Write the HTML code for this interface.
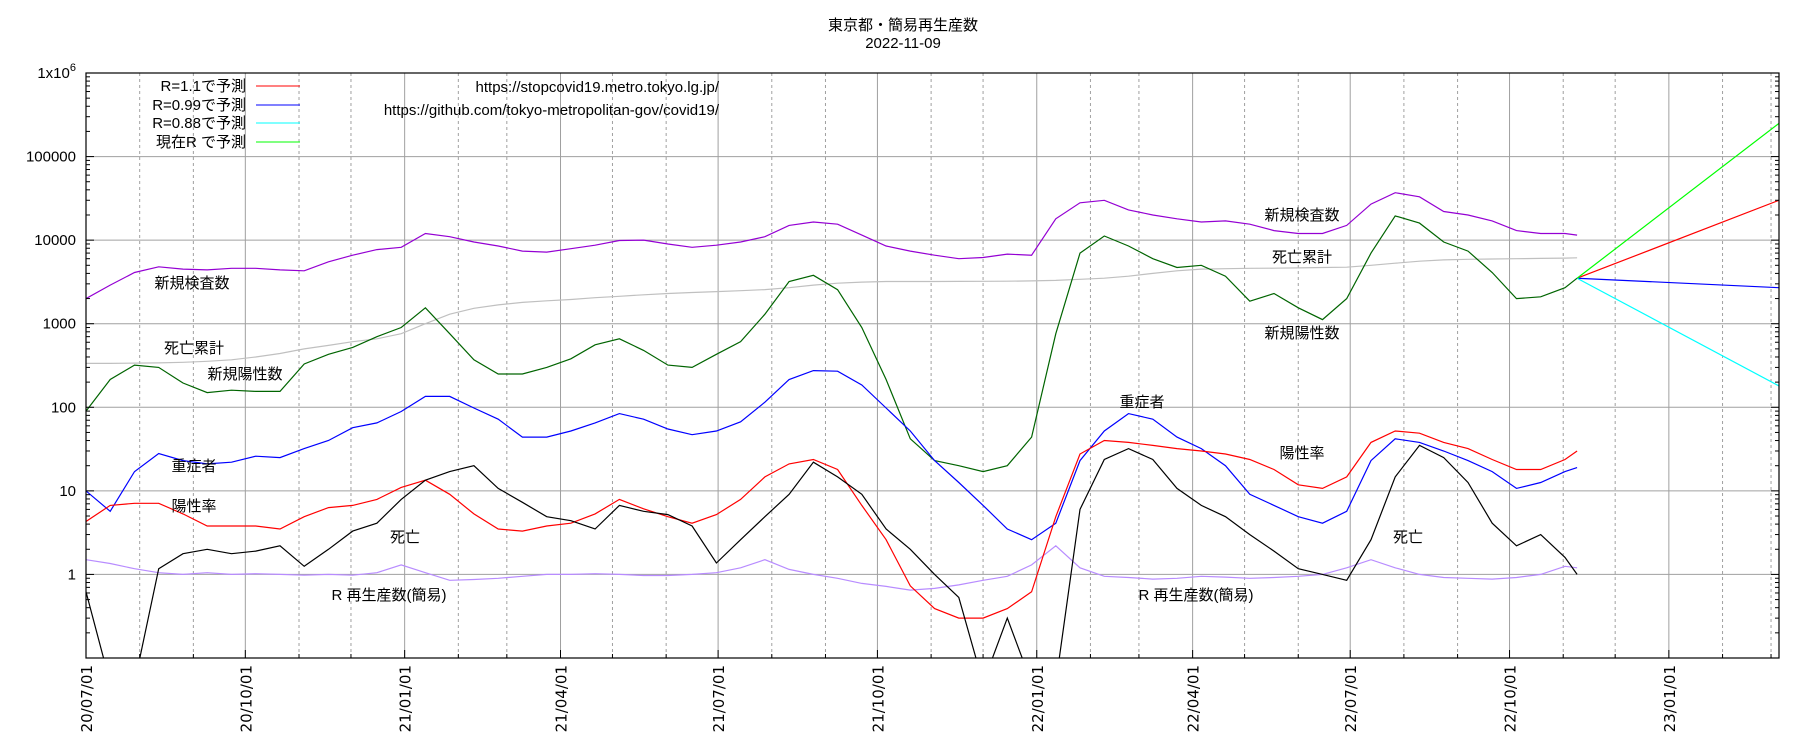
<!DOCTYPE html>
<html><head><meta charset="utf-8">
<style>
html,body{margin:0;padding:0;background:#fff;}
svg{display:block;font-family:"Liberation Sans","Noto Sans CJK JP",sans-serif;}
</style></head>
<body>
<svg id="chart" width="1806" height="747" viewBox="0 0 1806 747" xmlns="http://www.w3.org/2000/svg">
<text x="903" y="30" font-size="15" text-anchor="middle">東京都・簡易再生産数</text>
<text x="903" y="48" font-size="15" text-anchor="middle">2022-11-09</text>
<g id="grid"></g>
<g id="series" clip-path="url(#plotclip)"></g>
<defs><clipPath id="plotclip"><rect x="86" y="73" width="1693" height="585"/></clipPath></defs>
<rect x="86" y="73" width="1693" height="585" fill="none" stroke="#000" stroke-width="1.2"/>
<g id="axes" font-size="15"></g>
<g font-size="15" text-anchor="end">
<g><text x="246" y="91">R=1.1で予測</text><line x1="256" y1="86" x2="300" y2="86" stroke="#ff0000"/></g>
<g><text x="246" y="110">R=0.99で予測</text><line x1="256" y1="105" x2="300" y2="105" stroke="#0000ff"/></g>
<g><text x="246" y="128">R=0.88で予測</text><line x1="256" y1="123" x2="300" y2="123" stroke="#00ffff"/></g>
<g><text x="246" y="147">現在R で予測</text><line x1="256" y1="142" x2="300" y2="142" stroke="#00ff00"/></g>
</g>
<g font-size="15" text-anchor="end">
<text x="719" y="92">https://stopcovid19.metro.tokyo.lg.jp/</text>
<text x="719" y="115">https://github.com/tokyo-metropolitan-gov/covid19/</text>
</g>
<g font-size="15" text-anchor="middle">
<text x="192" y="288">新規検査数</text>
<text x="194" y="353">死亡累計</text>
<text x="245" y="379">新規陽性数</text>
<text x="194" y="471">重症者</text>
<text x="194" y="511">陽性率</text>
<text x="405" y="542">死亡</text>
<text x="389" y="600">R 再生産数(簡易)</text>
<text x="1302" y="220">新規検査数</text>
<text x="1302" y="262">死亡累計</text>
<text x="1302" y="338">新規陽性数</text>
<text x="1142" y="407">重症者</text>
<text x="1302" y="458">陽性率</text>
<text x="1408" y="542">死亡</text>
<text x="1196" y="600">R 再生産数(簡易)</text>
</g>
</svg>
<script>
// ---- data (sampled every 14 days from 2020-07-01, last point 2022-11-09) ----
const startDate = "2020-07-01";
const lastDate = "2022-11-09";
const tests = [2000,2900,4100,4800,4500,4400,4600,4600,4400,4300,5500,6600,7700,8200,12000,11000,9500,8500,7400,7200,7900,8700,9900,10000,9000,8200,8700,9500,11000,15000,16500,15500,11500,8500,7400,6600,6000,6200,6800,6600,18000,28000,30000,23000,20000,18000,16500,17000,15500,13000,12000,12000,15000,27000,37000,33000,22000,20000,17000,13000,12000,12000,11500];
const positives = [90,215,320,300,195,150,160,155,155,330,430,520,700,900,1550,760,370,250,250,300,380,560,660,480,320,300,430,610,1300,3200,3800,2550,900,215,42,23,20,17,20,44,760,7000,11200,8500,6000,4700,5000,3700,1860,2300,1550,1120,2000,7000,19500,16000,9500,7400,4100,2000,2100,2700,3500];
const cumDeaths = [335,335,338,340,345,355,370,400,440,500,550,610,660,760,1000,1300,1530,1680,1800,1880,1950,2050,2130,2220,2300,2360,2420,2480,2560,2700,2900,3050,3150,3200,3200,3200,3210,3220,3230,3250,3300,3400,3500,3700,4000,4300,4500,4550,4600,4620,4650,4700,4750,5000,5300,5600,5800,5900,5950,6000,6050,6100,6150];
const severe = [10,5.7,17,28,23,21,22,26,25,32,40,57,65,89,135,135,98,72,44,44,52,65,84,72,55,47,52,67,115,215,275,270,185,98,52,23,12.6,6.7,3.5,2.6,4.1,23,52,84,72,44,32,20,9.1,6.7,4.9,4.1,5.7,23,42,38,30,23,17,10.7,12.6,17,19];
const posRate = [4.3,6.7,7.1,7.1,5.3,3.8,3.8,3.8,3.5,4.9,6.3,6.7,7.9,11,13.4,9.1,5.3,3.5,3.3,3.8,4.1,5.3,7.9,6.1,4.9,4.1,5.2,7.9,14.7,21,23.7,18,6.7,2.6,0.73,0.39,0.3,0.3,0.39,0.62,4.9,27.6,40,38,35,32,30,27.6,23.7,18,11.8,10.7,14.7,38,52,49,38,32,23.7,18,18,23.7,30];
const deaths = [0.62,0.05,0.05,1.17,1.77,2,1.77,1.9,2.2,1.25,2,3.3,4.1,7.9,13.4,17,20,10.7,7.3,4.9,4.4,3.5,6.7,5.7,5.2,3.8,1.37,2.6,4.9,9.1,22,14.7,9.1,3.5,2,1,0.53,0.05,0.3,0.05,0.05,6,23.7,32,23.7,10.7,6.7,4.9,3,1.9,1.17,1,0.85,2.6,14.7,35,25,12.6,4.1,2.2,3,1.6,1];
const rValues = [1.5,1.35,1.17,1.05,1.0,1.05,1.0,1.02,1.0,0.98,1.0,0.98,1.05,1.3,1.05,0.85,0.87,0.9,0.95,1.0,1.0,1.02,1.0,0.97,0.97,1.0,1.05,1.2,1.5,1.15,1.0,0.9,0.78,0.72,0.65,0.68,0.75,0.85,0.95,1.3,2.2,1.2,0.95,0.92,0.88,0.9,0.95,0.93,0.9,0.92,0.95,1.0,1.2,1.5,1.2,1.0,0.92,0.9,0.88,0.92,1.0,1.25,1.2];
const projStart = 3500;
const projNames = ["R=1.1", "R=0.99", "R=0.88", "current-R"];
const projEnd = [30000, 2700, 180, 250000];
const projColors = ["#ff0000","#0000ff","#00ffff","#00ff00"];
const yTicks = [0.1,1,10,100,1000,10000,100000,1000000];
const yTickLabels = ["","1","10","100","1000","10000","100000","1x10"];
const xTickLabels = ["20/07/01","20/10/01","21/01/01","21/04/01","21/07/01","21/10/01","22/01/01","22/04/01","22/07/01","22/10/01","23/01/01"];

// ---- scales ----
const NS="http://www.w3.org/2000/svg";
const X0=86, X1=1779, Y0=73, Y1=658;
const DAY=86400000;
const t0=Date.parse(startDate+"T00:00:00Z");
const xMaxDay=977.6;
function dayOf(s){return (Date.parse(s+"T00:00:00Z")-t0)/DAY;}
function xs(d){return X0+d*(X1-X0)/xMaxDay;}
function ys(v){return Y1-(Math.log10(v)+1)*(Y1-Y0)/7;}
const lastDay=dayOf(lastDate);
const days=tests.map((_,i)=> i<tests.length-1 ? i*14 : lastDay);

function mk(tag,attrs,parent){const e=document.createElementNS(NS,tag);for(const k in attrs)e.setAttribute(k,attrs[k]);parent.appendChild(e);return e;}
const grid=document.getElementById('grid');
const axes=document.getElementById('axes');
const series=document.getElementById('series');

// monthly grid
for(let m=0;m<33;m++){
  const y=2020+Math.floor((6+m)/12), mo=(6+m)%12+1;
  const s=y+"-"+String(mo).padStart(2,'0')+"-01";
  const d=dayOf(s); if(d>xMaxDay) break;
  const x=xs(d);
  const quarter=(mo-1)%3===0;
  const ln=mk('line',{x1:x,y1:Y0,x2:x,y2:Y1,stroke:quarter?'#a0a0a0':'#a0a0a0','stroke-width':1,'stroke-dasharray':quarter?'':'3,3'},grid);
  
  
  const tk=mk('line',{x1:x,y1:Y1,x2:x,y2:Y1-(quarter?8:4),stroke:'#000'},axes);
  
  
  if(quarter){
    const idx=Math.round(m/3);
    const t=mk('text',{x:0,y:0,transform:`translate(${x+6},665) rotate(-90)`,'text-anchor':'end','font-family':'"DejaVu Sans",sans-serif','font-size':'15'},axes);
    t.textContent=xTickLabels[idx];
    
    
  }
}
// y grid & ticks
yTicks.forEach((v,i)=>{
  const y=ys(v);
  if(i>0&&i<yTicks.length-1){
    const g=mk('line',{x1:X0,y1:y,x2:X1,y2:y,stroke:'#a0a0a0'},grid);
    
    
  }
  const t=mk('text',{x:76,y:y+5,'text-anchor':'end'},axes);
  t.textContent=yTickLabels[i];
  
  
  if(i===yTicks.length-1){const sp=mk('tspan',{dy:-7,'font-size':11},t);sp.textContent="6";}
  for(let k=1;k<=9&&i<yTicks.length-1;k++){
    const yy=ys(v*k); const len=k===1?8:4;
    mk('line',{x1:X0,y1:yy,x2:X0+len,y2:yy,stroke:'#000'},axes);
    mk('line',{x1:X1,y1:yy,x2:X1-len,y2:yy,stroke:'#000'},axes);
  }
});

function drawLine(vals,color,name,w){
  const pts=vals.map((v,i)=>xs(days[i]).toFixed(1)+","+ys(Math.max(v,0.01)).toFixed(1)).join(" ");
  const p=mk('polyline',{points:pts,fill:'none',stroke:color,'stroke-width':w||1.2},series);
  
  
}
drawLine(cumDeaths,'#c0c0c0','line-cumulative-deaths');
drawLine(rValues,'#b88cff','line-reproduction-number');
drawLine(tests,'#9400d3','line-new-tests');
drawLine(positives,'#006400','line-new-positives');
drawLine(severe,'#0000ff','line-severe');
drawLine(posRate,'#ff0000','line-positive-rate');
drawLine(deaths,'#000000','line-deaths');
projEnd.forEach((v,i)=>{
  const l=mk('line',{x1:xs(lastDay),y1:ys(projStart),x2:xs(xMaxDay),y2:ys(v),stroke:projColors[i],'stroke-width':1.2},series);
  
  
});
</script>
</body></html>
